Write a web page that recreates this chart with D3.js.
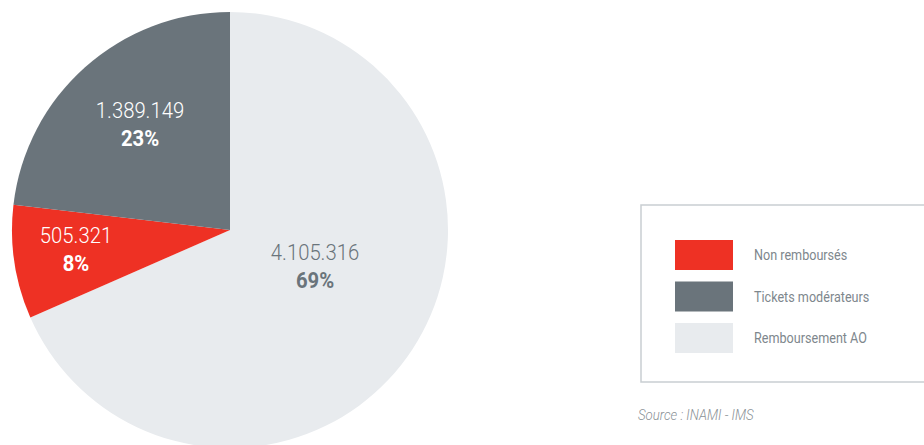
<!DOCTYPE html>
<html>
<head>
<meta charset="utf-8">
<script src="https://cdn.jsdelivr.net/npm/d3@7/dist/d3.min.js"></script>
<style>
  html, body { margin: 0; padding: 0; background: #ffffff; }
  svg { display: block; }
  text { font-family: Roboto, "Liberation Sans", sans-serif; }
</style>
</head>
<body>
<svg id="chart" width="924" height="445"></svg>
<script>
// Categories in legend order
const categories = ["Non remboursés", "Tickets modérateurs", "Remboursement AO"];
// Amounts per category
const amounts = [505321, 1389149, 4105316];
// Published percentage shares
const shares = [8, 23, 69];
// Slice colours
const colors = ["#ee3124", "#6a747b", "#e8ebee"];
// Order of slices clockwise from 12 o'clock
const pieOrder = ["Remboursement AO", "Non remboursés", "Tickets modérateurs"];
const sourceNote = "Source : INAMI - IMS";

const W = 924, H = 445;
const cx = 230, cy = 230, R = 218;

// label anchor offsets from the pie centre (layout only)
const labelOffset = {
  "Remboursement AO": [85, 35],
  "Non remboursés": [-154, 18],
  "Tickets modérateurs": [-90, -107]
};
const labelFill = {
  "Remboursement AO": "#6a747b",
  "Non remboursés": "#ffffff",
  "Tickets modérateurs": "#ffffff"
};

const svg = d3.select("#chart");

const rows = categories.map((c, i) => ({ cat: c, value: amounts[i], share: shares[i], color: colors[i] }));
const ordered = pieOrder.map(c => rows.find(r => r.cat === c));

const fr = d3.formatLocale({ decimal: ",", thousands: ".", grouping: [3], currency: ["", " €"] });
const fmt = fr.format(",d");

// condense text horizontally, mimicking a narrow typeface
function condense(sel, k) {
  sel.each(function () {
    const w = this.getComputedTextLength();
    d3.select(this).attr("textLength", w * k).attr("lengthAdjust", "spacingAndGlyphs");
  });
}

const pie = d3.pie().sort(null).value(d => d.value);
const arc = d3.arc().innerRadius(0).outerRadius(R);

const g = svg.append("g").attr("transform", `translate(${cx},${cy})`);
g.selectAll("path.slice")
  .data(pie(ordered))
  .join("path")
  .attr("class", "slice")
  .attr("d", arc)
  .attr("fill", d => d.data.color);

const labels = g.selectAll("g.lbl")
  .data(pie(ordered))
  .join("g")
  .attr("class", "lbl")
  .attr("transform", d => `translate(${labelOffset[d.data.cat][0]},${labelOffset[d.data.cat][1]})`);

labels.append("text")
  .attr("text-anchor", "middle")
  .attr("y", -5)
  .attr("font-size", 22.5)
  .attr("font-weight", 300)
  .attr("fill", d => labelFill[d.data.cat])
  .text(d => fmt(d.data.value))
  .call(condense, 0.9);

labels.append("text")
  .attr("text-anchor", "middle")
  .attr("y", 23)
  .attr("font-size", 22.5)
  .attr("font-weight", 700)
  .attr("fill", d => labelFill[d.data.cat])
  .text(d => d.data.share + "%")
  .call(condense, 0.9);

// legend
const lg = svg.append("g");
lg.append("rect")
  .attr("x", 641).attr("y", 205)
  .attr("width", 300).attr("height", 177)
  .attr("fill", "none")
  .attr("stroke", "#c9ced2")
  .attr("stroke-width", 1.5);

const item = lg.selectAll("g.item")
  .data(rows)
  .join("g")
  .attr("class", "item")
  .attr("transform", (d, i) => `translate(675,${240 + i * 41.5})`);

item.append("rect")
  .attr("width", 58).attr("height", 30)
  .attr("fill", d => d.color);

item.append("text")
  .attr("x", 79).attr("y", 20)
  .attr("font-size", 15)
  .attr("font-weight", 400)
  .attr("fill", "#7e878d")
  .text(d => d.cat)
  .call(condense, 0.84);

svg.append("text")
  .attr("x", 638).attr("y", 420)
  .attr("font-size", 15)
  .attr("font-style", "italic")
  .attr("font-weight", 300)
  .attr("fill", "#8a9196")
  .text(sourceNote)
  .call(condense, 0.88);
</script>
</body>
</html>
